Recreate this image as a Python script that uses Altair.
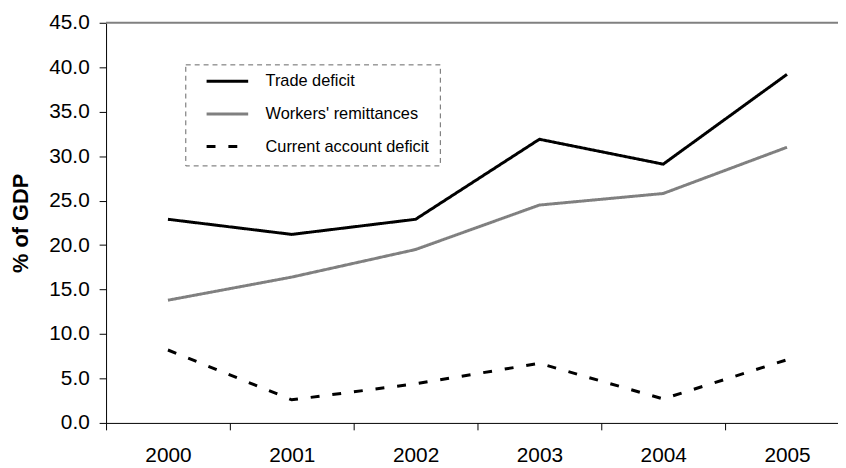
import altair as alt
import pandas as pd

years = [2000, 2001, 2002, 2003, 2004, 2005]
series = ["Trade deficit", "Workers' remittances", "Current account deficit"]
trade_deficit = [22.9, 21.2, 22.9, 31.9, 29.1, 39.2]
remittances = [13.8, 16.4, 19.5, 24.5, 25.8, 31.0]
current_account = [8.2, 2.6, 4.4, 6.7, 2.7, 7.1]
y_ticks = [0, 5, 10, 15, 20, 25, 30, 35, 40, 45]

rows = []
for name, vals in zip(series, [trade_deficit, remittances, current_account]):
    for yr, v in zip(years, vals):
        rows.append({"year": yr, "value": v, "series": name})
df = pd.DataFrame(rows)

FONT = "Liberation Sans"
W, H = 739, 404
step = 125.0

x_enc = alt.X(
    "year:Q",
    scale=alt.Scale(domain=[1999.5, 1999.5 + W / step], nice=False, zero=False),
    axis=alt.Axis(
        values=years, format="d", title=None, grid=False,
        tickOffset=-step / 2, labelOffset=step / 2,
        labelFlush=False, labelOverlap=False,
        tickSize=7, labelPadding=15, labelFontSize=21,
        domainColor="black", tickColor="black",
    ),
)
y_enc = alt.Y(
    "value:Q",
    scale=alt.Scale(domain=[0, 45], nice=False),
    axis=alt.Axis(
        values=y_ticks, format=".1f", title="% of GDP", grid=False,
        tickSize=7, labelPadding=10, labelFontSize=21,
        titleFontSize=22, titleFontWeight="bold", titlePadding=16,
        domainColor="black", tickColor="black",
    ),
)

lines = alt.Chart(df).mark_line(strokeWidth=3).encode(
    x=x_enc,
    y=y_enc,
    color=alt.Color(
        "series:N",
        scale=alt.Scale(domain=series, range=["#000000", "#808080", "#000000"]),
        legend=alt.Legend(title=None),
    ),
    strokeDash=alt.StrokeDash(
        "series:N",
        scale=alt.Scale(domain=series, range=[[1, 0], [1, 0], [9, 13]]),
        legend=alt.Legend(title=None),
    ),
)

top_rule = alt.Chart(pd.DataFrame({"v": [45]})).mark_rule(
    color="#808080", strokeWidth=2
).encode(y=alt.datum(45))

chart = alt.layer(top_rule, lines).properties(
    width=W, height=H,
    autosize=alt.AutoSizeParams(type="none"),
    padding={"left": 99, "top": 12.7, "right": 0, "bottom": 43.3},
).configure_view(stroke=None).configure_axis(
    labelFont=FONT, titleFont=FONT, labelColor="black", titleColor="black",
    domainWidth=1, tickWidth=1,
).configure_legend(
    orient="none", legendX=80, legendY=42,
    strokeColor="#666666", strokeDash=[5, 4], strokeWidth=1,
    padding=10, symbolOffset=10, clipHeight=14, rowPadding=16,
    symbolType="stroke", symbolSize=1764, symbolStrokeWidth=3,
    labelFont=FONT, labelFontSize=16.5, labelColor="black", labelOffset=16,
    labelLimit=400,
)

chart.save("out.html", embed_options={"renderer": "svg", "actions": False})
